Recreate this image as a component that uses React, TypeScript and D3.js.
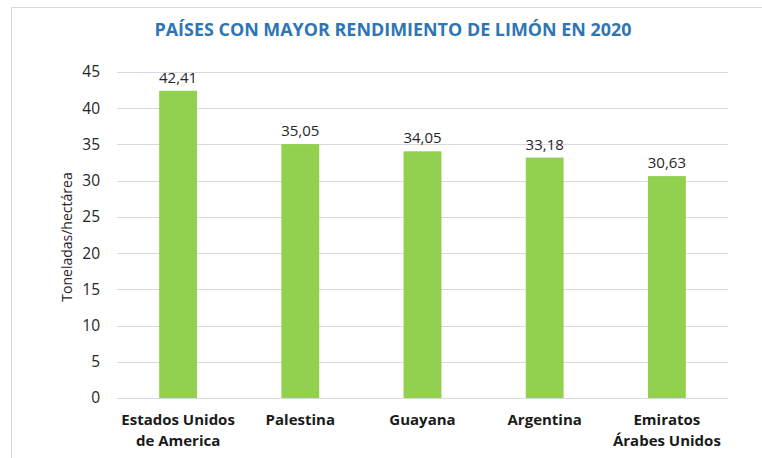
import React from "react";
import * as d3 from "d3";

const categories: string[][] = [
  ["Estados Unidos", "de America"],
  ["Palestina"],
  ["Guayana"],
  ["Argentina"],
  ["Emiratos", "Árabes Unidos"],
];
const values: number[] = [42.41, 35.05, 34.05, 33.18, 30.63];
const yTicks: number[] = [0, 5, 10, 15, 20, 25, 30, 35, 40, 45];
const title = "PAÍSES CON MAYOR RENDIMIENTO DE LIMÓN EN 2020";
const yLabel = "Toneladas/hectárea";

const W = 762;
const H = 458;
const left = 117;
const right = 728;
const top = 72;
const bottom = 398;

export default function App() {
  const x = d3
    .scaleBand<number>()
    .domain(values.map((_, i) => i))
    .range([left, right])
    .paddingInner(0.69)
    .paddingOuter(0.345);
  const y = d3.scaleLinear().domain([0, 45]).range([bottom, top]);
  const fmt = (v: number) => v.toFixed(2).replace(".", ",");
  const font = "'Open Sans', 'DejaVu Sans', sans-serif";
  return (
    <svg
      width={W}
      height={H}
      style={{ position: "absolute", left: 0, top: 0 }}
      fontFamily={font}
    >
      <rect x={0} y={0} width={W} height={H} fill="#fff" />
      <path d={`M11.5,${H} V7.5 H${W}`} fill="none" stroke="#d9d9d9" strokeWidth={1} />
      <text
        x={393}
        y={36}
        textAnchor="middle"
        fontSize={17.5}
        fontWeight="bold"
        fill="#2e75b6"
        textLength={477}
        lengthAdjust="spacingAndGlyphs"
      >
        {title}
      </text>
      {yTicks.map((t) => (
        <g key={t}>
          <line
            x1={left}
            x2={right}
            y1={Math.round(y(t)) + 0.5}
            y2={Math.round(y(t)) + 0.5}
            stroke="#d9d9d9"
            strokeWidth={1}
          />
          <text
            x={100}
            y={y(t)}
            dy="0.35em"
            textAnchor="end"
            fontSize={15.5}
            fill="#262626"
          >
            {t}
          </text>
        </g>
      ))}
      <text
        transform={`translate(72,${(top + bottom) / 2 + 2}) rotate(-90)`}
        textAnchor="middle"
        fontSize={14}
        fill="#262626"
      >
        {yLabel}
      </text>
      {values.map((v, i) => (
        <g key={i}>
          <rect
            x={x(i)}
            y={y(v)}
            width={x.bandwidth()}
            height={bottom - y(v)}
            fill="#92d050"
          />
          <text
            x={(x(i) as number) + x.bandwidth() / 2}
            y={y(v) - 8}
            textAnchor="middle"
            fontSize={15}
            fill="#262626"
          >
            {fmt(v)}
          </text>
          {categories[i].map((line, j) => (
            <text
              key={j}
              x={(x(i) as number) + x.bandwidth() / 2}
              y={425 + j * 21}
              textAnchor="middle"
              fontSize={15}
              fontWeight="bold"
              fill="#1a1a1a"
            >
              {line}
            </text>
          ))}
        </g>
      ))}
    </svg>
  );
}
